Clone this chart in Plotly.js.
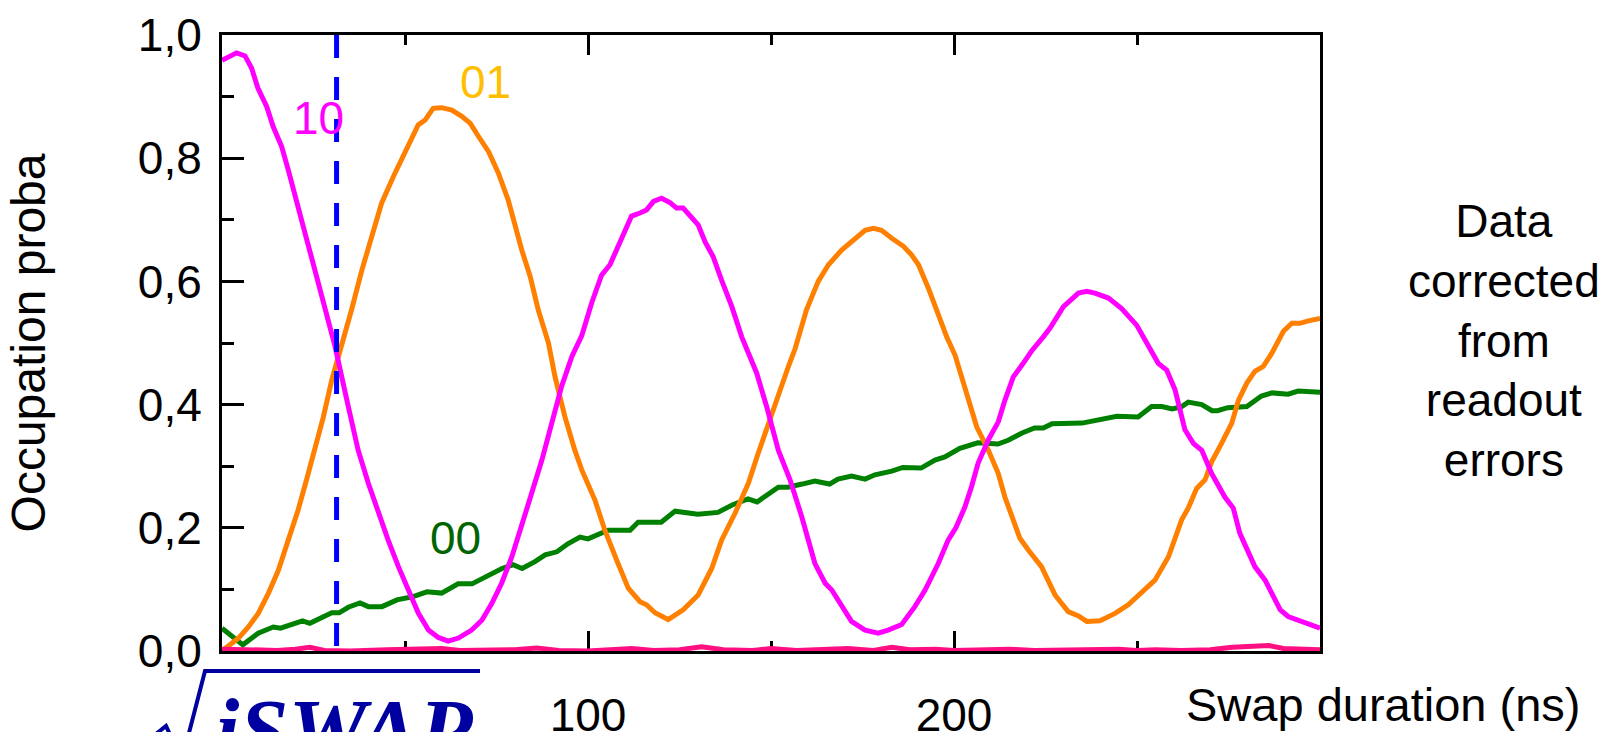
<!DOCTYPE html>
<html>
<head>
<meta charset="utf-8">
<script src="https://cdn.plot.ly/plotly-3.0.1.min.js"></script>
<style>html,body{margin:0;padding:0;background:#fff;}#chart{width:1604px;height:732px;}</style>
</head>
<body>
<div id="chart"></div>
<script>
// ---- Data ----
// state |10> (magenta)
const t10 = [0,4,6.3,8.1,9.8,12.2,14,16.3,18.1,19.9,22.7,25.4,28.1,30.9,34.5,37.2,40,42.7,45.4,48.2,50.9,53.6,56.4,59.1,61.8,64.6,68.2,71,73.7,76.4,79.2,81.9,84.6,87.4,90.1,92.8,95.6,98.3,101,103.7,106,110.1,111.9,114.2,116,117.9,120.1,122.4,124.2,126,130.1,132,134.2,136.5,139.3,142,146.1,148.8,152,155.2,158.4,162,164.8,166.6,169.3,172,175.7,179.3,182,185.7,189.3,192.1,195.7,198.4,200.5,203,204.8,206.6,209.4,212.1,213.9,216.2,218.9,221.2,224.4,226.2,229.9,234,236.3,238.5,242.2,245.8,249.9,252.7,255.8,258.1,260.4,263.1,265.4,267.7,270.4,274,276.3,278.1,282.2,285,289.1,291.3,296.8,300];
const p10 = [0.959,0.971,0.966,0.946,0.914,0.884,0.851,0.819,0.781,0.738,0.678,0.618,0.554,0.494,0.397,0.326,0.272,0.224,0.18,0.137,0.099,0.062,0.034,0.022,0.016,0.021,0.034,0.05,0.077,0.11,0.153,0.202,0.256,0.31,0.37,0.43,0.478,0.512,0.565,0.61,0.627,0.683,0.706,0.711,0.716,0.73,0.735,0.728,0.719,0.719,0.692,0.664,0.64,0.602,0.559,0.51,0.451,0.397,0.326,0.278,0.218,0.142,0.11,0.099,0.072,0.048,0.034,0.029,0.034,0.043,0.072,0.099,0.142,0.18,0.2,0.234,0.267,0.305,0.343,0.372,0.407,0.445,0.467,0.487,0.51,0.524,0.559,0.581,0.584,0.581,0.573,0.556,0.529,0.5,0.467,0.456,0.424,0.359,0.337,0.326,0.288,0.25,0.232,0.191,0.137,0.115,0.067,0.056,0.043,0.037];

// state |01> (orange)
const t01 = [0,4.5,7.2,9.9,12.7,15.4,18.1,20.8,23.1,25.4,27.7,30,31.8,32.7,35.4,38.2,40,43.6,46.8,50,53.6,55.5,57.7,60,62.8,65.5,67.8,70,72.8,75.5,78.2,81.9,84.2,86.4,89.2,91,93.7,96.4,98.3,101.9,104.6,107.8,111,114.2,116,118.3,121.9,126,130.1,133.8,136.5,140.2,143.8,146.5,149.3,152,154.7,156.6,159.7,162.9,165.7,169.3,172.5,175.7,178,180.2,183,186.2,188.4,190.3,193,195.7,198,200.3,203.9,206.2,209.4,212.1,213.9,216.2,218,220.3,223.9,227.6,231.2,234,236.3,239.9,244,247.6,251.3,254.9,258.6,262.2,264,266.3,268.6,270.4,273.1,275.9,277.7,280,282.2,284.5,286.8,288.6,290,292.3,294.5,296.8,300];
const p01 = [0,0.021,0.039,0.061,0.094,0.131,0.18,0.229,0.278,0.326,0.38,0.44,0.478,0.494,0.554,0.618,0.656,0.727,0.77,0.811,0.854,0.862,0.881,0.882,0.878,0.868,0.857,0.836,0.811,0.776,0.732,0.651,0.608,0.554,0.5,0.445,0.38,0.326,0.294,0.245,0.196,0.148,0.102,0.08,0.075,0.062,0.051,0.067,0.091,0.134,0.18,0.224,0.272,0.321,0.37,0.418,0.461,0.491,0.554,0.6,0.627,0.651,0.667,0.683,0.686,0.683,0.67,0.657,0.643,0.627,0.589,0.545,0.51,0.48,0.413,0.364,0.326,0.288,0.25,0.213,0.183,0.164,0.137,0.091,0.064,0.057,0.048,0.049,0.061,0.075,0.096,0.115,0.153,0.213,0.232,0.264,0.278,0.307,0.337,0.37,0.407,0.435,0.454,0.462,0.483,0.505,0.519,0.532,0.532,0.536,0.54];

// state |00> (green)
const t00 = [0,5.7,9.9,14,16,22,24,30,32,34.5,37.7,40,43.7,47.8,52,56,60,64.5,68.3,76.5,79.5,82,85.5,88.3,91.5,94.5,97.8,100,105.5,111.5,113.7,120,123.8,130,135.5,139.4,143.7,146.2,152,154.6,158.5,162,166,168.3,172,175.7,178.4,183,186,191,194.8,197.5,201.6,206.5,212,214.8,218.6,222,224.4,226.8,235,240.4,244.5,250.3,254,256.8,259.6,262,264,267.7,270.5,272,274.8,280,284,286.9,291.3,294,297.8,300];
const p00 = [0.037,0.01,0.029,0.039,0.037,0.049,0.045,0.062,0.062,0.071,0.078,0.072,0.072,0.083,0.088,0.096,0.094,0.109,0.109,0.134,0.14,0.134,0.145,0.156,0.161,0.174,0.185,0.182,0.196,0.196,0.209,0.209,0.227,0.222,0.225,0.237,0.247,0.242,0.266,0.266,0.271,0.276,0.271,0.279,0.284,0.279,0.286,0.292,0.298,0.297,0.31,0.315,0.329,0.338,0.336,0.342,0.354,0.362,0.362,0.369,0.37,0.377,0.381,0.38,0.397,0.397,0.393,0.396,0.404,0.4,0.39,0.39,0.395,0.397,0.414,0.419,0.417,0.422,0.422,0.42];

// state |11> (pink, near zero)
const t11 = [0,5,10,15,20,24,28,35,45,55,60,65,75,80,86,92,100,105,112,118,125,131,137,145,150,157,165,171,178,183,188,195,200,210,215,222,230,238,245,250,255,262,270,276,282,286,290,295,300];
const p11 = [0.003,0.002,0,0.001,0.003,0.006,0.001,0,0.002,0.002,0.004,0.001,0.001,0.002,0.005,0.001,0,0.002,0.004,0.001,0.002,0.007,0.002,0.001,0.004,0.001,0.002,0.004,0.001,0.006,0.002,0.003,0.001,0.002,0.003,0.001,0.002,0.001,0.003,0.001,0.002,0.001,0.002,0.006,0.009,0.009,0.004,0.002,0.002];

// sqrt(iSWAP) time marker (ns)
const iswapTime = 31.3;

// axis ticks
const xTickVals = [100, 200];
const xTickText = ["100", "200"];
const xMinorVals = [50, 150, 250];
const yTickVals = [0, 0.2, 0.4, 0.6, 0.8, 1.0];
const yTickText = ["0,0", "0,2", "0,4", "0,6", "0,8", "1,0"];
const yMinorVals = [0.1, 0.3, 0.5, 0.7, 0.9];

// curve labels
const labelText = ["10", "01", "00"];
const labelX = [26.5, 72.1, 63.9];
const labelY = [0.865, 0.924, 0.183];
const labelColor = ["#FF00FF", "#FFBF00", "#006400"];

// ---- Chart ----
const FONT = '"Liberation Sans", Arial, sans-serif';
const lw = 5;
const traces = [
  {x: t00, y: p00, mode: 'lines', line: {color: '#008000', width: lw}, name: '00'},
  {x: t01, y: p01, mode: 'lines', line: {color: '#FF8000', width: lw}, name: '01'},
  {x: t10, y: p10, mode: 'lines', line: {color: '#FF00FF', width: lw}, name: '10'},
  {x: t11, y: p11, mode: 'lines', line: {color: '#FF1080', width: lw}, name: '11'}
];

// plot-area geometry (px) used to place the hand-drawn radical sign
const L = 222, T = 35, W = 1098, H = 616;
const px = v => (v - L) / W;
const py = v => (T + H - v) / H;
const rad = [[156,734],[166,726],[182,760],[205,671],[480,671]];
const radPath = rad.map((p, i) => (i ? 'L' : 'M') + px(p[0]).toFixed(5) + ',' + py(p[1]).toFixed(5)).join(' ');

const annotations = labelText.map((t, i) => ({
  x: labelX[i], y: labelY[i], xref: 'x', yref: 'y', text: t, showarrow: false,
  font: {family: FONT, size: 46, color: labelColor[i]}, xanchor: 'center', yanchor: 'middle'
}));
annotations.push({
  xref: 'paper', yref: 'paper', x: px(1383), y: py(705), text: 'Swap duration (ns)', showarrow: false,
  font: {family: FONT, size: 47, color: '#000'}, xanchor: 'center', yanchor: 'middle'
});
annotations.push({
  xref: 'paper', yref: 'paper', x: px(1504), y: py(340), text: 'Data<br>corrected<br>from<br>readout<br>errors', showarrow: false,
  align: 'center', font: {family: FONT, size: 46, color: '#000'}, xanchor: 'center', yanchor: 'middle'
});
annotations.push({
  xref: 'paper', yref: 'paper', x: px(213), y: py(680), text: '<b><i>iSWAP</i></b>', showarrow: false,
  font: {family: '"Liberation Serif", "Times New Roman", serif', size: 88, color: '#0000A0'}, xanchor: 'left', yanchor: 'top'
});

const layout = {
  width: 1604, height: 732,
  margin: {l: L, r: 1604 - L - W, t: T, b: 732 - T - H, pad: 0},
  paper_bgcolor: '#fff', plot_bgcolor: '#fff',
  showlegend: false,
  font: {family: FONT, color: '#000'},
  xaxis: {
    range: [0, 300], showgrid: false, zeroline: false,
    showline: true, linecolor: '#000', linewidth: 3, mirror: 'ticks',
    ticks: 'inside', ticklen: 20, tickwidth: 3, tickcolor: '#000',
    tickmode: 'array', tickvals: xTickVals, ticktext: xTickText,
    minor: {tickmode: 'array', tickvals: xMinorVals, ticks: 'inside', ticklen: 10, tickwidth: 3, tickcolor: '#000', showgrid: false},
    tickfont: {family: FONT, size: 46, color: '#000'},
    ticklabelstandoff: 22,
    layer: 'below traces'
  },
  yaxis: {
    range: [0, 1], showgrid: false, zeroline: false,
    showline: true, linecolor: '#000', linewidth: 3, mirror: true,
    ticks: 'inside', ticklen: 22, tickwidth: 3, tickcolor: '#000',
    tickmode: 'array', tickvals: yTickVals, ticktext: yTickText,
    minor: {tickmode: 'array', tickvals: yMinorVals, ticks: 'inside', ticklen: 12, tickwidth: 3, tickcolor: '#000', showgrid: false},
    tickfont: {family: FONT, size: 46, color: '#000'},
    ticklabelstandoff: 8,
    title: {text: 'Occupation proba', font: {family: FONT, size: 48, color: '#000'}, standoff: 78},
    layer: 'below traces'
  },
  shapes: [
    {type: 'line', xref: 'x', yref: 'paper', x0: iswapTime, x1: iswapTime, y0: 1, y1: 0,
     line: {color: '#0000FF', width: 5, dash: '23px,19px'}},
    {type: 'path', xref: 'paper', yref: 'paper', path: radPath,
     line: {color: '#0000A0', width: 4}}
  ],
  annotations: annotations
};

Plotly.newPlot('chart', traces, layout, {displayModeBar: false, staticPlot: true});
</script>
</body>
</html>
